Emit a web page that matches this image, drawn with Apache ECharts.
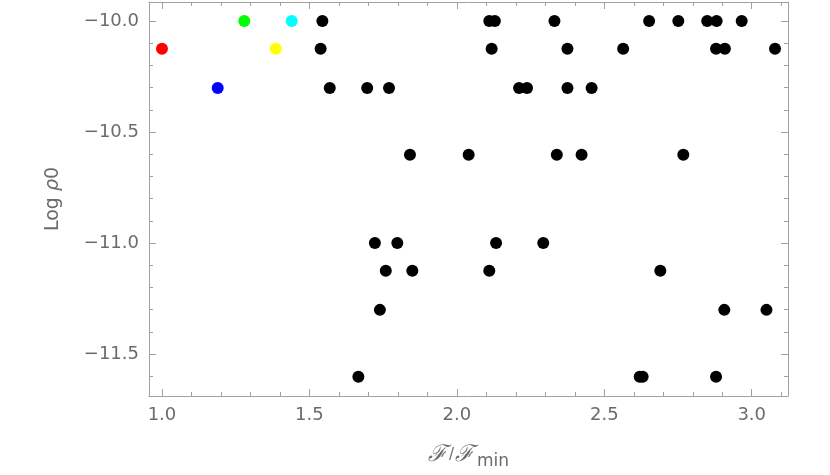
<!DOCTYPE html>
<html>
<head>
<meta charset="utf-8">
<script src="https://cdn.jsdelivr.net/npm/echarts@6/dist/echarts.min.js"></script>
<style>
  html, body { margin: 0; padding: 0; background: #fff; }
  #chart { width: 830px; height: 475px; }
</style>
</head>
<body>
<div id="chart"></div>
<script>
  // highlighted runs (coloured dots)
  var hiX = [1.0, 1.189, 1.279, 1.386, 1.44]
  var hiY = [-10.125, -10.301, -10.0, -10.125, -10.0]
  var hiColors = ['#ff0000', '#0000ff', '#00ff00', '#ffff00', '#00ffff']

  // all other runs (black dots)
  var blackX = [
    1.544, 2.110, 2.129, 2.331, 2.652, 2.751, 2.849, 2.881, 2.966,
    1.538, 2.118, 2.375, 2.564, 2.879, 2.909, 3.079,
    1.569, 1.696, 1.770, 2.211, 2.238, 2.375, 2.457,
    1.841, 2.040, 2.339, 2.423, 2.768,
    1.722, 1.798, 2.133, 2.293,
    1.759, 1.849, 2.110, 2.690,
    1.739, 2.907, 3.050,
    1.666, 2.620, 2.630, 2.879
  ]
  var blackY = [
    -10.0, -10.0, -10.0, -10.0, -10.0, -10.0, -10.0, -10.0, -10.0,
    -10.125, -10.125, -10.125, -10.125, -10.125, -10.125, -10.125,
    -10.301, -10.301, -10.301, -10.301, -10.301, -10.301, -10.301,
    -10.602, -10.602, -10.602, -10.602, -10.602,
    -11.0, -11.0, -11.0, -11.0,
    -11.125, -11.125, -11.125, -11.125,
    -11.301, -11.301, -11.301,
    -11.602, -11.602, -11.602, -11.602
  ]

  // ticks
  var xMajor = [1.0, 1.5, 2.0, 2.5, 3.0]
  var xMinor = [1.1, 1.2, 1.3, 1.4, 1.6, 1.7, 1.8, 1.9, 2.1, 2.2, 2.3, 2.4, 2.6, 2.7, 2.8, 2.9, 3.1]
  var yMajor = [-10.0, -10.5, -11.0, -11.5]
  var yMinor = [-10.1, -10.2, -10.3, -10.4, -10.6, -10.7, -10.8, -10.9, -11.1, -11.2, -11.3, -11.4, -11.6]

  var xRange = [0.956, 3.123]
  var yRange = [-11.689, -9.914]

  var frameColor = '#a0a0a0'
  var labelColor = '#6b6b6b'
  var font = 'DejaVu Sans'

  function fmt(v) {
    return (v < 0 ? '\u2212' : '') + Math.abs(v).toFixed(1)
  }

  function axis(dim, pos, ticks, len, opts) {
    var a = {
      type: 'value',
      position: pos,
      min: dim === 'x' ? xRange[0] : yRange[0],
      max: dim === 'x' ? xRange[1] : yRange[1],
      axisLine: { show: false },
      splitLine: { show: false },
      axisTick: {
        show: true,
        inside: true,
        length: len,
        customValues: ticks,
        lineStyle: { color: frameColor, width: 1 },
      },
      axisLabel: { show: false },
    }
    return Object.assign(a, opts || {})
  }

  var chart = echarts.init(document.getElementById('chart'))

  var xAxes = [
    axis('x', 'bottom', xMajor, 7, {
      axisLine: { show: true, lineStyle: { color: frameColor, width: 1 } },
      axisLabel: {
        show: true,
        customValues: xMajor,
        formatter: fmt,
        color: labelColor,
        fontFamily: font,
        fontSize: 18,
        margin: 10,
      },
      name: '{f|\u2131}{d|/}{f|\u2131}{s|min}',
      nameLocation: 'middle',
      nameGap: 45,
      nameTextStyle: {
        rich: {
          f: { fontFamily: 'DejaVu Serif', fontStyle: 'italic', fontSize: 23, color: labelColor },
          d: { fontFamily: font, fontSize: 15, color: labelColor, padding: [0, 1, 0, 2] },
          s: { fontFamily: font, fontSize: 17, color: labelColor, padding: [12, 0, 0, 3] },
        },
      },
    }),
    axis('x', 'bottom', xMinor, 4),
    axis('x', 'top', xMajor, 7, {
      axisLine: { show: true, lineStyle: { color: frameColor, width: 1 } },
    }),
    axis('x', 'top', xMinor, 4),
  ]

  var yAxes = [
    axis('y', 'left', yMajor, 7, {
      axisLine: { show: true, lineStyle: { color: frameColor, width: 1 } },
      axisLabel: {
        show: true,
        customValues: yMajor,
        formatter: fmt,
        color: labelColor,
        fontFamily: font,
        fontSize: 18,
        margin: 10,
      },
      name: '{t|Log }{r|\u03c1}{t|0}',
      nameLocation: 'middle',
      nameGap: 86,
      nameTextStyle: {
        rich: {
          t: { fontFamily: font, fontSize: 19, color: labelColor },
          r: { fontFamily: font, fontStyle: 'italic', fontSize: 19, color: labelColor },
        },
      },
    }),
    axis('y', 'left', yMinor, 4),
    axis('y', 'right', yMajor, 7, {
      axisLine: { show: true, lineStyle: { color: frameColor, width: 1 } },
    }),
    axis('y', 'right', yMinor, 4),
  ]

  var hiData = hiX.map(function (x, i) {
    return { value: [x, hiY[i]], itemStyle: { color: hiColors[i] } }
  })
  var blackData = blackX.map(function (x, i) {
    return [x, blackY[i]]
  })

  chart.setOption({
    animation: false,
    backgroundColor: '#fff',
    grid: { left: 149, right: 42, top: 2, bottom: 79, containLabel: false },
    xAxis: xAxes,
    yAxis: yAxes,
    series: [
      {
        type: 'scatter',
        symbolSize: 12,
        itemStyle: { color: '#000', opacity: 1 },
        data: blackData,
      },
      {
        type: 'scatter',
        symbolSize: 12,
        itemStyle: { opacity: 1 },
        data: hiData,
      },
    ],
  })
</script>
</body>
</html>
